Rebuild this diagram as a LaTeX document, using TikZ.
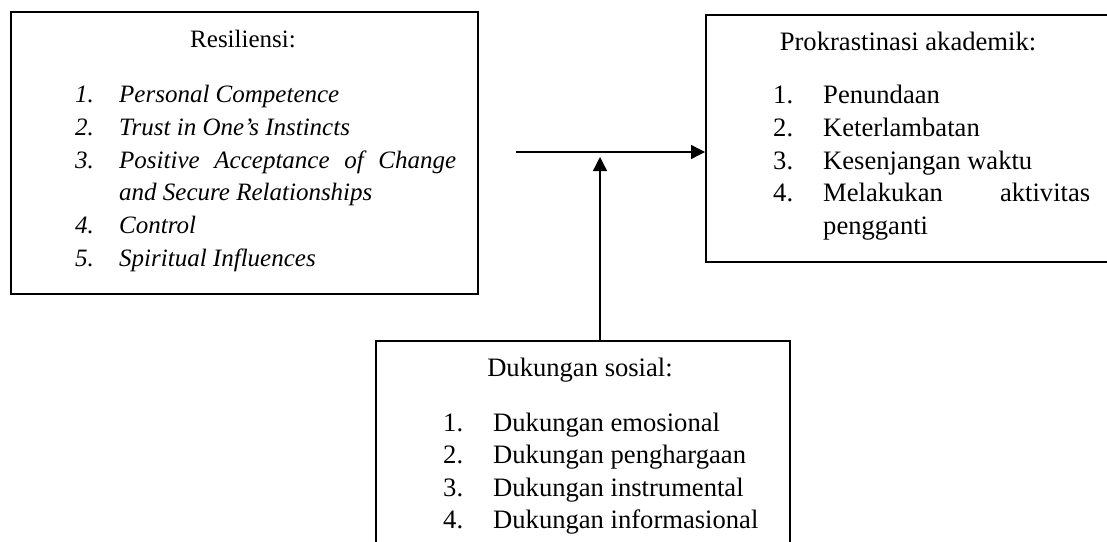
\documentclass[tikz,border=0pt]{standalone}
\usepackage{fontspec}
\setmainfont{Liberation Serif}
\usetikzlibrary{arrows.meta}
\begin{document}
\begin{tikzpicture}[x=1pt,y=-1pt,
  box/.style={draw, line width=2.4pt, inner sep=0pt, anchor=north west},
  txt/.style={inner sep=0pt, anchor=base west, font=\fontsize{26.6}{32}\selectfont},
  ttl/.style={inner sep=0pt, anchor=base, font=\fontsize{26.6}{32}\selectfont},
  itxt/.style={inner sep=0pt, anchor=base west, font=\fontsize{25}{33}\selectfont\itshape},
  ittl/.style={inner sep=0pt, anchor=base, font=\fontsize{25}{33}\selectfont},
  conn/.style={line width=1.3pt, -{Triangle[length=14pt,width=14pt]}}]
\clip (0,0) rectangle (1107,541);
\fill[white] (0,0) rectangle (1107,541);
% boxes
\node[box, minimum width=467pt, minimum height=282pt] (res) at (10,11) {};
\node[box, minimum width=430pt, minimum height=247pt] (prok) at (705,14) {};
\node[box, minimum width=414pt, minimum height=240pt] (duk) at (375,340) {};
% Resiliensi
\node[ittl] (rt) at (243,47) {Resiliensi:};
\node[itxt] (r1n) at (75,102) {1.};
\node[itxt] (r1) at (119,102) {Personal Competence};
\node[itxt] (r2n) at (75,135) {2.};
\node[itxt] (r2) at (119,135) {Trust in One’s Instincts};
\node[itxt] (r3n) at (75,168) {3.};
\node[itxt] (r3) at (119,168) {\makebox[337pt][s]{Positive Acceptance of Change}};
\node[itxt] (r3b) at (119,200.5) {and Secure Relationships};
\node[itxt] (r4n) at (75,233) {4.};
\node[itxt] (r4) at (119,233) {Control};
\node[itxt] (r5n) at (75,266) {5.};
\node[itxt] (r5) at (119,266) {Spiritual Influences};
% Prokrastinasi
\node[ttl] (pt) at (908,50) {Prokrastinasi akademik:};
\node[txt] (p1n) at (773,103) {1.};
\node[txt] (p1) at (823,103) {Penundaan};
\node[txt] (p2n) at (773,136) {2.};
\node[txt] (p2) at (823,136) {Keterlambatan};
\node[txt] (p3n) at (773,169) {3.};
\node[txt] (p3) at (823,169) {Kesenjangan waktu};
\node[txt] (p4n) at (773,201.5) {4.};
\node[txt] (p4) at (823,201.5) {\makebox[267pt][s]{Melakukan aktivitas}};
\node[txt] (p4b) at (823,234) {pengganti};
% Dukungan
\node[ttl] (dt) at (580,376) {Dukungan sosial:};
\node[txt] (d1n) at (443,431) {1.};
\node[txt] (d1) at (493,431) {Dukungan emosional};
\node[txt] (d2n) at (443,463.5) {2.};
\node[txt] (d2) at (493,463.5) {Dukungan penghargaan};
\node[txt] (d3n) at (443,496) {3.};
\node[txt] (d3) at (493,496) {Dukungan instrumental};
\node[txt] (d4n) at (443,528.5) {4.};
\node[txt] (d4) at (493,528.5) {Dukungan informasional};
% connectors
\coordinate (hs) at (516,152);
\draw[conn] (hs) -- (hs -| prok.west);
\coordinate (vt) at (600,157);
\draw[conn] (vt |- duk.north) -- (vt);
\end{tikzpicture}
\end{document}
